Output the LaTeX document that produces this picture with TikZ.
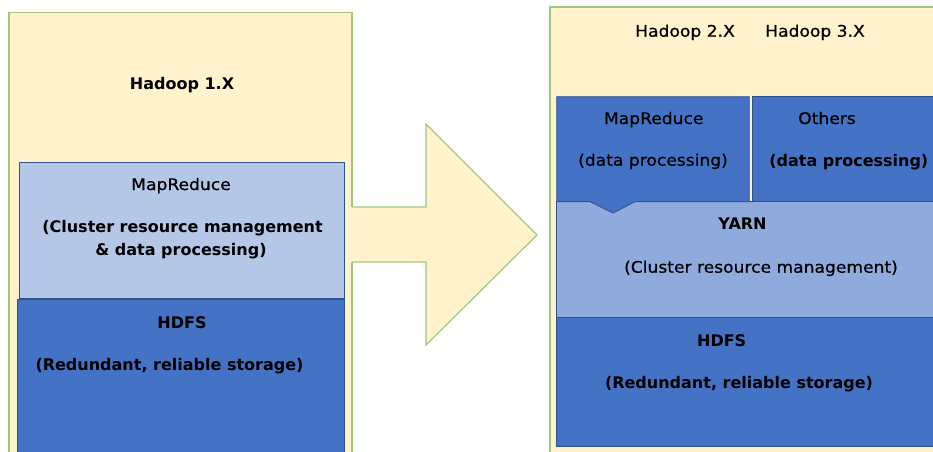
\documentclass[tikz,border=0pt]{standalone}
\usepackage{fontspec}
\setmainfont{DejaVu Sans}
\newfontfamily\rgf[FakeStretch=1.07,FakeBold=0.6]{DejaVu Sans}
\definecolor{panelfill}{HTML}{FFF2CC}
\definecolor{panelline}{HTML}{9CC97A}
\definecolor{lightblue}{HTML}{B4C7E7}
\definecolor{midblue}{HTML}{8FAADC}
\definecolor{darkblue}{HTML}{4472C4}
\definecolor{boxline}{HTML}{2F528F}
\tikzset{
  panelbg/.style={fill=panelfill},
  panelbd/.style={draw=panelline, line width=1.2pt},
  layer/.style={draw=boxline, line width=0.8pt},
  bt/.style={anchor=base, inner sep=0pt, font=\fontsize{16}{19}\selectfont\bfseries},
  rt/.style={anchor=base, inner sep=0pt, font=\fontsize{16}{19}\selectfont\rgf},
}
\begin{document}
\begin{tikzpicture}[x=1pt, y=-1pt]
\useasboundingbox (0,0) rectangle (933,451);
\clip (0,0) rectangle (933,451);
% left panel
\path[panelbg] (9,12.5) rectangle (352,470);
\path[panelbd] (9,470) -- (9,12.5) -- (352,12.5) -- (352,470);
\path[layer, fill=lightblue] (19,162) rectangle (344,298);
\path[layer, fill=darkblue] (17,299) rectangle (344,470);
% arrow
\fill[panelfill] (350,207) -- (426,207) -- (426,124) -- (537,235) -- (426,345) -- (426,262) -- (350,262) -- cycle;
\draw[panelline, line width=1.2pt, line join=miter] (352,207) -- (426,207) -- (426,124) -- (537,235) -- (426,345) -- (426,262) -- (352,262);
% right panel
\path[panelbg] (550,7) rectangle (950,470);
\path[panelbd] (550,470) -- (550,7) -- (950,7);
\path[layer, fill=darkblue] (556.7,317) rectangle (950,446);
\path[layer, fill=midblue] (556.7,201.7) rectangle (950,317);
\path[layer, fill=darkblue] (752.7,96.7) rectangle (950,201.7);
\path[layer, fill=darkblue] (556.7,96.7) -- (749.3,96.7) -- (749.3,201.7) -- (635,201.7) -- (613,213) -- (590,201.7) -- (556.7,201.7) -- cycle;
% texts left
\node[bt] (h1) at (182,89) {Hadoop 1.X};
\node[rt] (mr1) at (181,190) {MapReduce};
\node[bt] (mr1a) at (182.5,232) {(Cluster resource management};
\node[bt] (mr1b) at (181,255) {\& data processing)};
\node[bt] (hd1) at (182,328) {HDFS};
\node[bt] (hd1a) at (169.5,370) {(Redundant, reliable storage)};
% texts right
\node[rt] (h2) at (685,36.7) {Hadoop 2.X};
\node[rt] (h3) at (815,36.7) {Hadoop 3.X};
\node[rt] (mr2) at (653.7,124) {MapReduce};
\node[rt] (mr2a) at (653,165.7) {(data processing)};
\node[rt] (ot) at (827,124) {Others};
\node[bt] (ota) at (848.8,166) {(data processing)};
\node[bt] (yarn) at (742.5,229) {YARN};
\node[rt] (yarna) at (761,272.7) {(Cluster resource management)};
\node[bt] (hd2) at (721.7,346.7) {HDFS};
\node[bt] (hd2a) at (739,388) {(Redundant, reliable storage)};
\end{tikzpicture}
\end{document}
